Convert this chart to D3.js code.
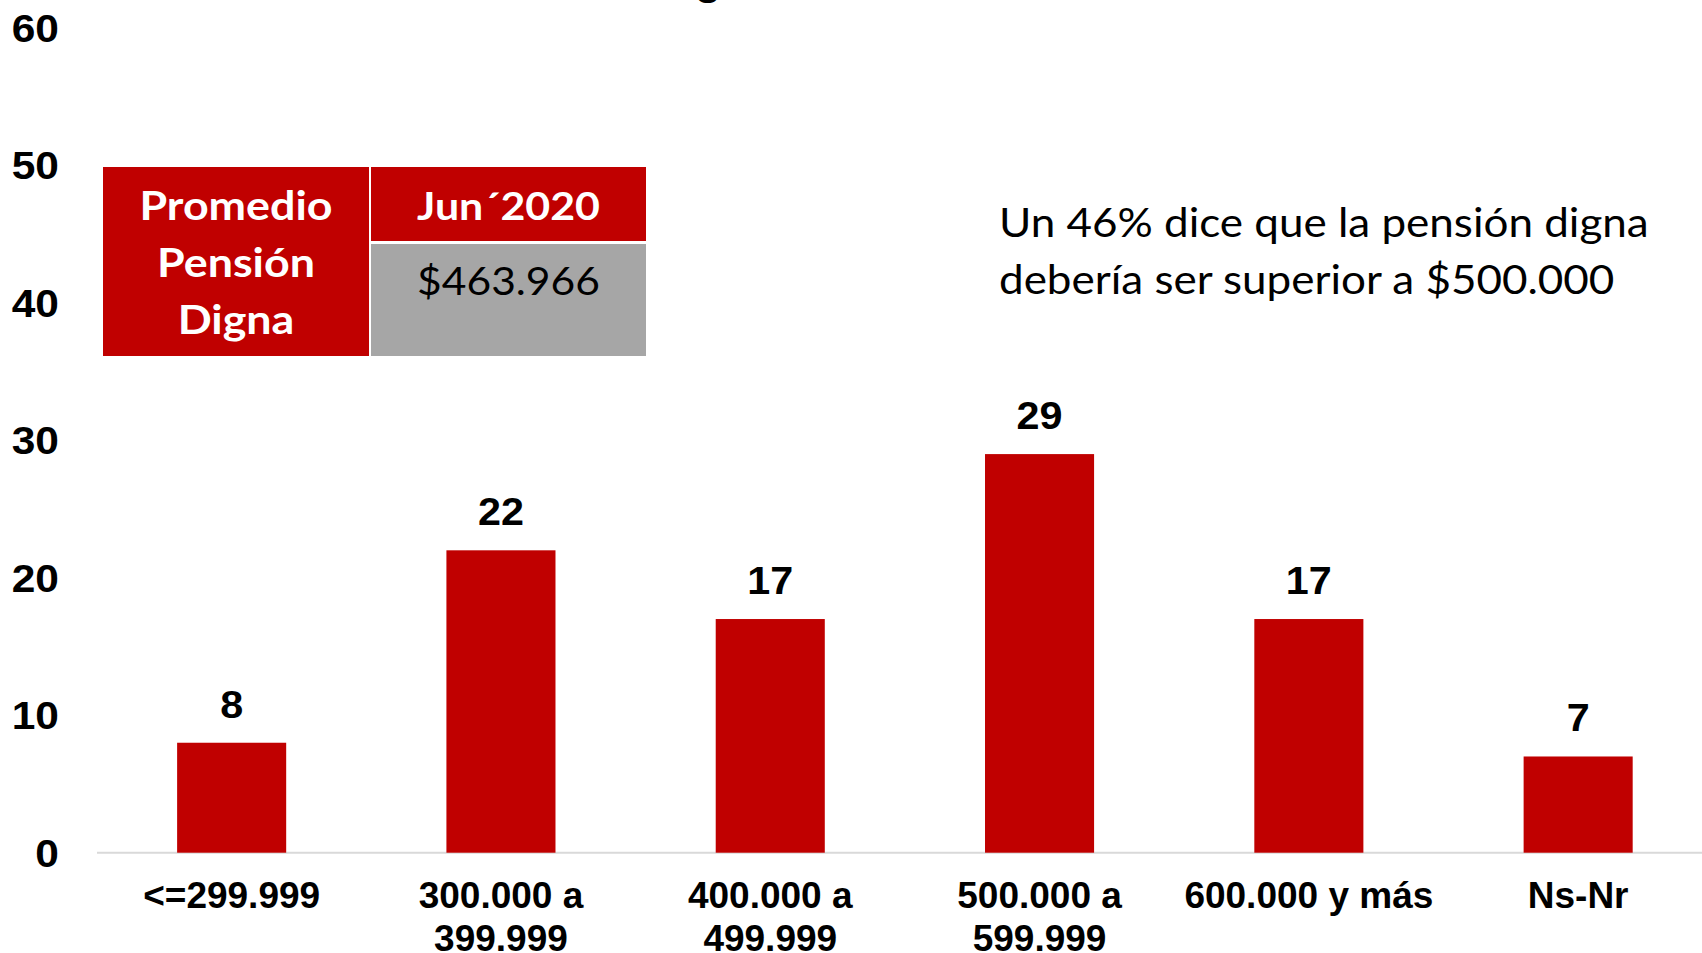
<!DOCTYPE html>
<html>
<head>
<meta charset="utf-8">
<script src="https://cdn.jsdelivr.net/npm/d3@7"></script>
<style>
  body { margin: 0; background: #fff; overflow: hidden; }
  svg { display: block; }
</style>
</head>
<body>
<svg id="chart"></svg>
<script>
// data
var categories = ["<=299.999", "300.000 a|399.999", "400.000 a|499.999", "500.000 a|599.999", "600.000 y más", "Ns-Nr"];
var values = [8, 22, 17, 29, 17, 7];
var yTicks = [0, 10, 20, 30, 40, 50, 60];
var tableHead = ["Promedio", "Pensión", "Digna"];
var tableYear = "Jun´2020";
var tableValue = "$463.966";
var note = ["Un 46% dice que la pensión digna", "debería ser superior a $500.000"];
var title = "Pensión digna";

var screen = {width: 1702, height: 953}
var red = "#C00000"

var svg = d3.select("#chart")
    .attr("width", screen.width)
    .attr("height", screen.height)

var x = d3.scaleBand()
    .domain(categories)
    .range([97, 97 + 6 * 269.3])
    .paddingInner(0.595)
    .paddingOuter(0.2975);

var y = d3.scaleLinear()
    .domain([0, 60])
    .range([852.7, 28]);

// text helper, places a (horizontally stretched) text at x,y
var addText = function(g, str, tx, ty, opts)
{
    return g.append("text")
        .text(str)
        .attr("transform", "translate(" + tx + "," + ty + ") scale(" + (opts.sx || 1) + ",1)")
        .attr("text-anchor", opts.anchor || "middle")
        .attr("font-family", opts.font || "'Liberation Sans', Arial, sans-serif")
        .attr("font-weight", opts.weight || "bold")
        .attr("font-size", opts.size || 37)
        .attr("fill", opts.fill || "#000");
}

// title, only its bottom is visible
addText(svg, title, 773, -6, {anchor: "end", size: 44});

// y axis labels (no line)
var yAxis = svg.append("g").attr("class", "yaxis")
yTicks.forEach(function(t)
{
    addText(yAxis, t, 59, y(t) + 14, {anchor: "end", size: 39, sx: 1.09});
})

// baseline
svg.append("line")
    .attr("x1", x.range()[0])
    .attr("x2", screen.width)
    .attr("y1", y(0))
    .attr("y2", y(0))
    .attr("stroke", "#D9D9D9")
    .attr("stroke-width", 2);

// bars
var bars = svg.selectAll(".bar")
    .data(values)
    .enter()
    .append("g").attr("class", "bar")

bars.append("rect")
    .attr("x", function(d, i) { return x(categories[i]) })
    .attr("width", x.bandwidth())
    .attr("y", function(d) { return y(d) })
    .attr("height", function(d) { return y(0) - y(d) })
    .attr("fill", red);

bars.each(function(d, i)
{
    var cx = x(categories[i]) + x.bandwidth() / 2
    addText(d3.select(this), d, cx, y(d) - 25, {size: 39, sx: 1.06});
    categories[i].split("|").forEach(function(line, k)
    {
        addText(d3.select(this), line, cx, 908 + k * 43, {});
    }, this)
})

// table box top left
var table = svg.append("g").attr("class", "table")
table.append("rect").attr("x", 103).attr("y", 167).attr("width", 266).attr("height", 189).attr("fill", red)
table.append("rect").attr("x", 371).attr("y", 167).attr("width", 275).attr("height", 74).attr("fill", red)
table.append("rect").attr("x", 371).attr("y", 244).attr("width", 275).attr("height", 112).attr("fill", "#A6A6A6")

var calibri = "Lato, 'Open Sans', sans-serif"
tableHead.forEach(function(line, k)
{
    addText(table, line, 236, 220 + k * 57, {font: calibri, size: 40, fill: "#fff", sx: 1.12});
})
addText(table, tableYear, 508.5, 220, {font: calibri, size: 39, fill: "#fff", sx: 1.1});
addText(table, tableValue, 508.5, 295, {font: calibri, size: 38, weight: "normal", sx: 1.12});

// note on the right
note.forEach(function(line, k)
{
    addText(svg, line, 999, 237 + k * 57, {anchor: "start", font: calibri, size: 40, weight: "normal", sx: 1.1});
})
</script>
</body>
</html>
